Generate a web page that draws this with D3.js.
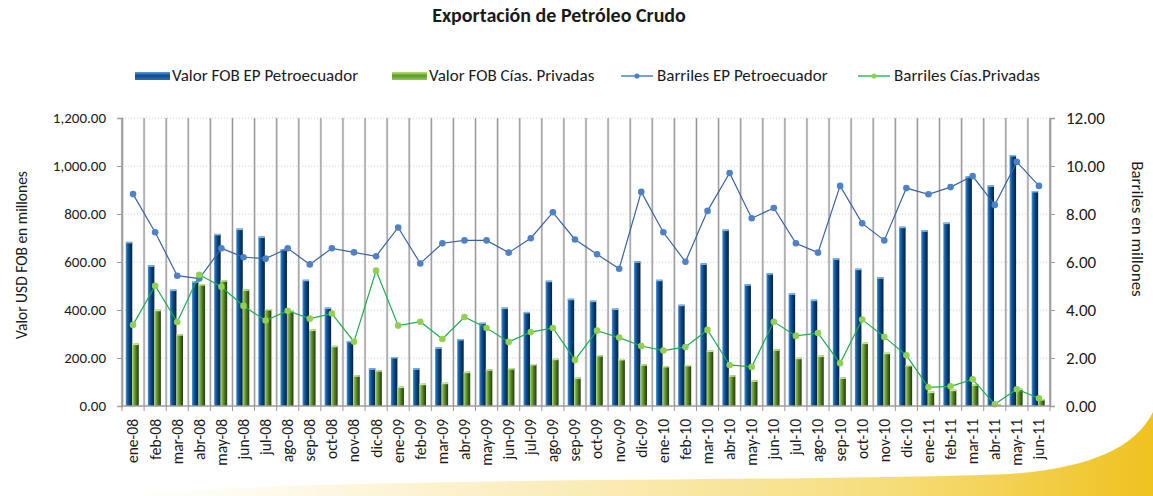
<!DOCTYPE html>
<html>
<head>
<meta charset="utf-8">
<script src="https://cdn.jsdelivr.net/npm/d3@7"></script>
<style>
body { margin: 0; background: #fff; }
text { font-family: Carlito, Calibri, Lato, sans-serif; fill: #1a1a1a; }
</style>
</head>
<body>
<svg id="chart" width="1153" height="496"></svg>
<script>

//datos (valores en millones)
var meses = ["ene-08","feb-08","mar-08","abr-08","may-08","jun-08","jul-08","ago-08","sep-08","oct-08","nov-08","dic-08",
    "ene-09","feb-09","mar-09","abr-09","may-09","jun-09","jul-09","ago-09","sep-09","oct-09","nov-09","dic-09",
    "ene-10","feb-10","mar-10","abr-10","may-10","jun-10","jul-10","ago-10","sep-10","oct-10","nov-10","dic-10",
    "ene-11","feb-11","mar-11","abr-11","may-11","jun-11"];

var fobPetro = [684,586,485,519,717,739,706,653,526,410,271,157,
    204,157,244,279,347,410,392,522,447,439,406,603,
    526,422,594,735,507,553,469,443,615,572,536,747,
    732,764,957,919,1046,896];

var fobPriv = [260,401,299,508,524,486,404,397,319,251,128,149,
    81,93,97,143,153,158,175,197,119,212,196,174,
    167,171,231,128,107,236,201,210,119,264,222,171,
    60,68,90,8,72,29];

var barrPetro = [8.83,7.24,5.43,5.31,6.57,6.20,6.14,6.57,5.90,6.57,6.40,6.24,
    7.44,5.94,6.78,6.90,6.90,6.39,6.99,8.07,6.94,6.32,5.72,8.92,
    7.24,6.01,8.13,9.71,7.82,8.25,6.78,6.39,9.17,7.61,6.90,9.08,
    8.82,9.12,9.58,8.38,10.17,9.17];

var barrPriv = [3.38,5.01,3.50,5.47,4.97,4.17,3.56,3.97,3.64,3.85,2.68,5.64,
    3.35,3.51,2.79,3.71,3.25,2.67,3.08,3.25,1.92,3.14,2.85,2.50,
    2.31,2.46,3.17,1.71,1.63,3.51,2.92,3.04,1.78,3.60,2.88,2.11,
    0.78,0.82,1.11,0.07,0.70,0.32];

var ticksUsd = [0,200,400,600,800,1000,1200];
var ticksBarr = [0,2,4,6,8,10,12];

var svg = d3.select("#chart");
var fuente = "Carlito, Calibri, Lato, sans-serif";

var defs = svg.append("defs");

function grad(id, stops, vertical) {
    var g = defs.append("linearGradient").attr("id", id)
        .attr("x1", 0).attr("y1", 0)
        .attr("x2", vertical ? 0 : 1).attr("y2", vertical ? 1 : 0);
    stops.forEach(function(s) {
        g.append("stop").attr("offset", s[0]).attr("stop-color", s[1]).attr("stop-opacity", s[2] == null ? 1 : s[2]);
    })
}
grad("gAzul", [[0,"#4d97dc"],[0.22,"#1c68b0"],[0.5,"#0a4783"],[1,"#03213f"]]);
grad("gVerde", [[0,"#acdc6e"],[0.25,"#7cae3f"],[0.55,"#4f7c24"],[1,"#213a0c"]]);
grad("gAzulLeg", [[0,"#5c9ee0"],[0.45,"#0d4c8c"],[1,"#2a6fb4"]], true);
grad("gVerdeLeg", [[0,"#b6e57c"],[0.45,"#5e9a2c"],[1,"#8cc552"]], true);
grad("gSwoosh", [[0,"#fff6d6",0],[0.3,"#fbefc4",0.8],[0.75,"#f6dd7a",1],[1,"#efc21f",1]]);

//decorativo: franja amarilla abajo
svg.append("path")
    .attr("d", "M110,496 C320,476 820,482 1010,474 C1090,468 1135,448 1153,412 L1153,496 Z")
    .attr("fill", "url(#gSwoosh)");

//escalas (ojo: no usar "top" como nombre global, choca con window.top)
var pL = 122, pR = 1050, pT = 118, pB = 406;
var x = d3.scaleBand().domain(meses).range([pL, pR]).padding(0);
var bw = x.bandwidth();
var xs = d3.scaleBand().domain(["petro","priv"]).range([bw * 0.17, bw * 0.76]).padding(0);
var yL = d3.scaleLinear().domain([0, 1200]).range([pB, pT]);
var yR = d3.scaleLinear().domain([0, 12]).range([pB, pT]);

//lineas horizontales punteadas
svg.append("g").selectAll("line")
    .data(ticksUsd.slice(1))
    .enter().append("line")
    .attr("x1", pL).attr("x2", pR)
    .attr("y1", function(d) { return yL(d) }).attr("y2", function(d) { return yL(d) })
    .attr("stroke", "#cfcfcf").attr("stroke-dasharray", "1,2");

//lineas verticales entre meses
var bordes = meses.map(function(m) { return x(m) }).concat([pR]);
var vg = svg.append("g");
vg.selectAll("line.halo").data(bordes).enter().append("line")
    .attr("class", "halo")
    .attr("x1", function(d) { return d }).attr("x2", function(d) { return d })
    .attr("y1", pT).attr("y2", pB)
    .attr("stroke", "#d8d8d8").attr("stroke-width", 2.4);
vg.selectAll("line.core").data(bordes).enter().append("line")
    .attr("class", "core")
    .attr("x1", function(d) { return d }).attr("x2", function(d) { return d })
    .attr("y1", pT).attr("y2", pB + 5)
    .attr("stroke", "#979797").attr("stroke-width", 1);

//barras
var series = [
    {key: "petro", vals: fobPetro, fill: "url(#gAzul)", cap: "#7fb6ea"},
    {key: "priv", vals: fobPriv, fill: "url(#gVerde)", cap: "#c4ea90"}
];
series.forEach(function(s) {
    var g = svg.append("g");
    g.selectAll("rect.bar").data(s.vals).enter().append("rect")
        .attr("class", "bar")
        .attr("x", function(d, i) { return x(meses[i]) + xs(s.key) })
        .attr("width", xs.bandwidth())
        .attr("y", function(d) { return yL(d) })
        .attr("height", function(d) { return pB - yL(d) })
        .attr("fill", s.fill);
    g.selectAll("rect.cap").data(s.vals).enter().append("rect")
        .attr("class", "cap")
        .attr("x", function(d, i) { return x(meses[i]) + xs(s.key) })
        .attr("width", xs.bandwidth())
        .attr("y", function(d) { return yL(d) })
        .attr("height", 1.5)
        .attr("fill", s.cap);
});

//lineas de barriles
var lineas = [
    {vals: barrPetro, stroke: "#3a62a6", dot: "#4f81c7"},
    {vals: barrPriv, stroke: "#1aae4e", dot: "#92d050"}
];
lineas.forEach(function(l) {
    var line = d3.line()
        .x(function(d, i) { return x(meses[i]) + bw / 2 })
        .y(function(d) { return yR(d) });
    svg.append("path").datum(l.vals)
        .attr("d", line)
        .attr("fill", "none")
        .attr("stroke", l.stroke)
        .attr("stroke-width", 1.2);
    svg.append("g").selectAll("circle").data(l.vals).enter().append("circle")
        .attr("cx", function(d, i) { return x(meses[i]) + bw / 2 })
        .attr("cy", function(d) { return yR(d) })
        .attr("r", 3.3)
        .attr("fill", l.dot);
});

//ejes
var axL = svg.append("g").attr("transform", "translate(" + pL + ",0)")
    .call(d3.axisLeft(yL).tickValues(ticksUsd).tickFormat(d3.format(",.2f")).tickSize(5).tickPadding(11));
var axR = svg.append("g").attr("transform", "translate(" + pR + ",0)")
    .call(d3.axisRight(yR).tickValues(ticksBarr).tickFormat(d3.format(".2f")).tickSize(5).tickPadding(11));
[axL, axR].forEach(function(a) {
    a.select(".domain").attr("stroke", "#9c9c9c").attr("stroke-width", 1.5);
    a.selectAll(".tick line").attr("stroke", "#9c9c9c");
    a.selectAll("text").style("font-family", fuente).attr("fill", "#1a1a1a");
});
axL.selectAll("text").attr("font-size", 15);
axR.selectAll("text").attr("font-size", 17);

svg.append("line")
    .attr("x1", pL).attr("x2", pR).attr("y1", pB).attr("y2", pB)
    .attr("stroke", "#9c9c9c").attr("stroke-width", 1.5);

var axB = svg.append("g").attr("transform", "translate(0," + pB + ")")
    .call(d3.axisBottom(x).tickSize(0));
axB.select(".domain").remove();
axB.selectAll("text")
    .style("font-family", fuente)
    .attr("font-size", 15.5).attr("fill", "#1a1a1a")
    .attr("text-anchor", "end")
    .attr("transform", "translate(0,13) rotate(-90)")
    .attr("x", 0).attr("y", 0).attr("dy", "0.35em");

//titulos
svg.append("text")
    .attr("x", 559).attr("y", 22)
    .attr("text-anchor", "middle")
    .attr("font-size", 20).attr("font-weight", "bold")
    .text("Exportación de Petróleo Crudo");

svg.append("text")
    .attr("transform", "translate(27,255) rotate(-90)")
    .attr("text-anchor", "middle")
    .attr("font-size", 15.5)
    .text("Valor USD FOB en millones");

svg.append("text")
    .attr("transform", "translate(1132,229) rotate(90)")
    .attr("text-anchor", "middle")
    .attr("font-size", 17)
    .text("Barriles en millones");

//leyenda
var leg = svg.append("g");
var legItems = [
    {tipo: "bar", fill: "url(#gAzulLeg)", x: 135, label: "Valor FOB EP Petroecuador"},
    {tipo: "bar", fill: "url(#gVerdeLeg)", x: 392, label: "Valor FOB Cías. Privadas"},
    {tipo: "line", stroke: "#7aa0d4", dot: "#4f81c7", x: 621, label: "Barriles EP Petroecuador"},
    {tipo: "line", stroke: "#5fcf8a", dot: "#92d050", x: 858, label: "Barriles Cías.Privadas"}
];
legItems.forEach(function(it) {
    if (it.tipo == "bar") {
        leg.append("rect").attr("x", it.x).attr("y", 72).attr("width", 35).attr("height", 8).attr("fill", it.fill);
    } else {
        leg.append("line").attr("x1", it.x).attr("x2", it.x + 32).attr("y1", 76).attr("y2", 76)
            .attr("stroke", it.stroke).attr("stroke-width", 2);
        leg.append("circle").attr("cx", it.x + 16).attr("cy", 76).attr("r", 2.6).attr("fill", it.dot);
    }
    leg.append("text").attr("x", it.x + (it.tipo == "bar" ? 37 : 36)).attr("y", 81).attr("font-size", 17).text(it.label);
});

</script>
</body>
</html>
